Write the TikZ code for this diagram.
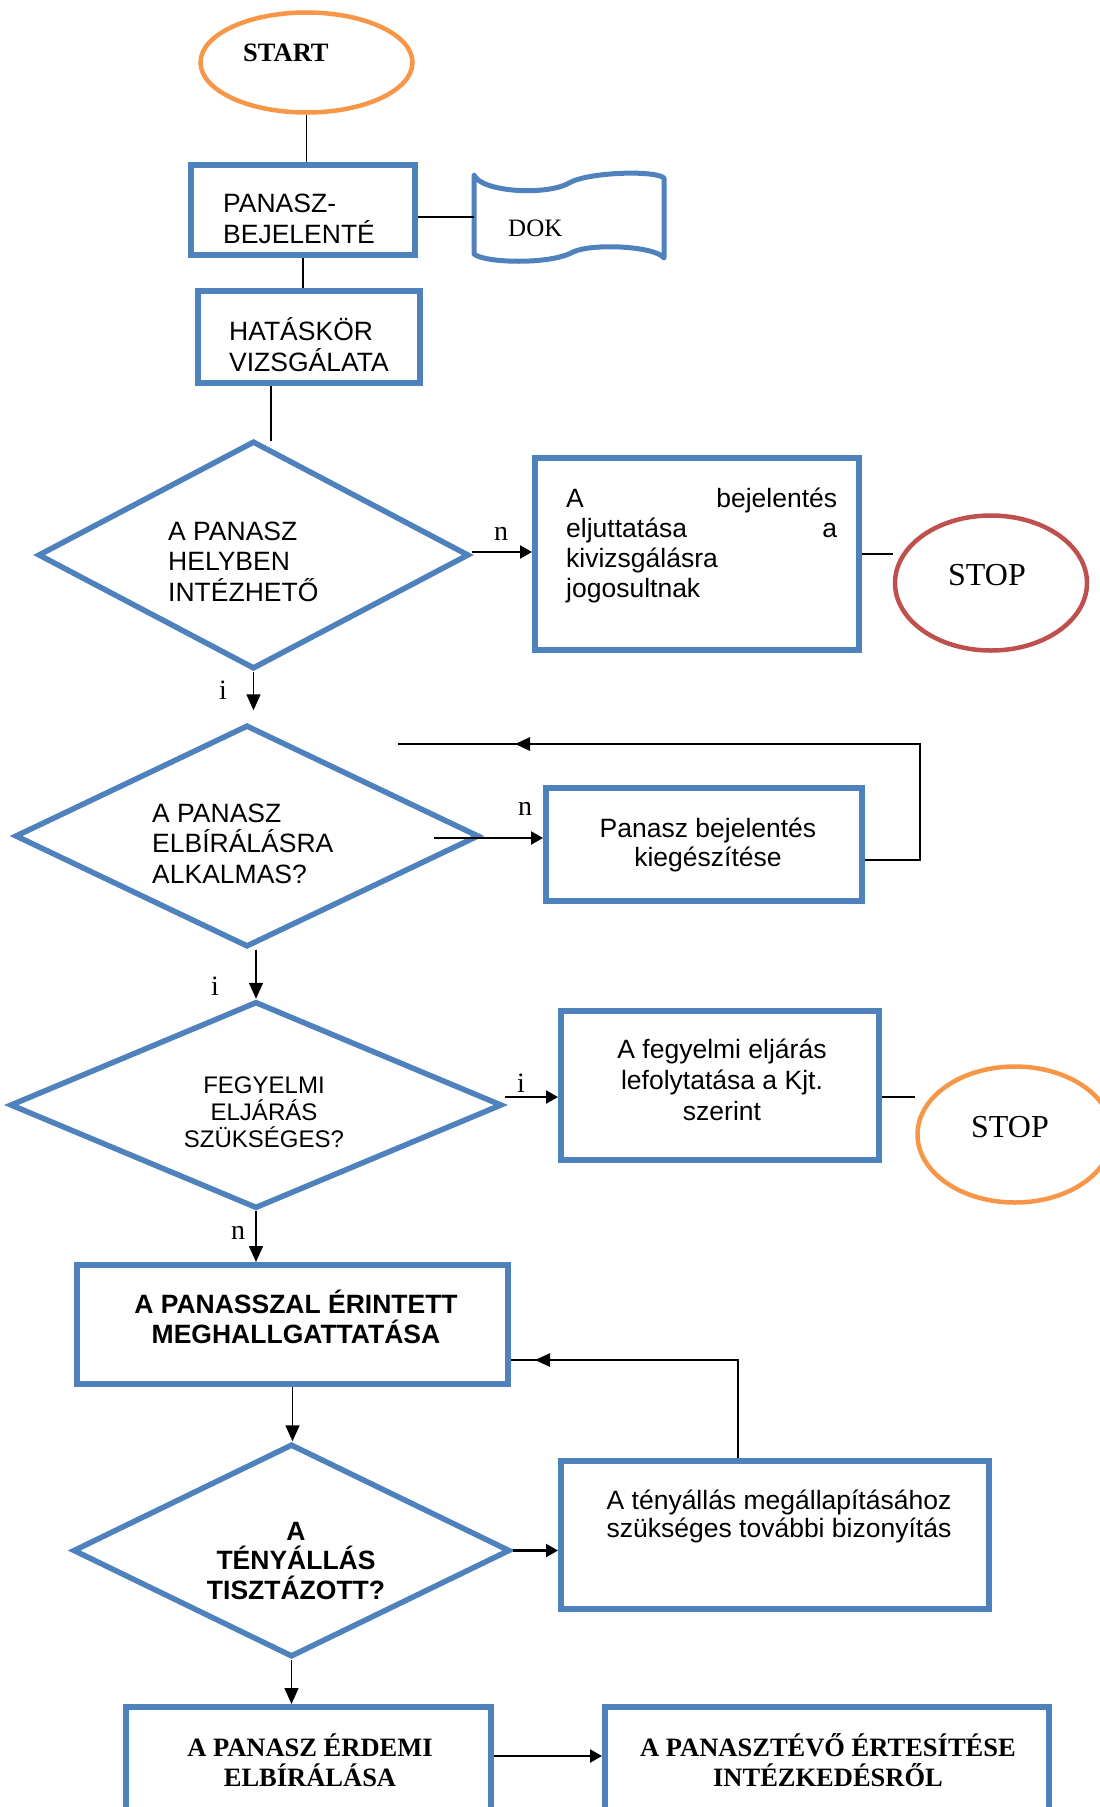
\documentclass[tikz,border=0pt]{standalone}
\usepackage{fontspec}
\setmainfont{Liberation Serif}
\newfontfamily\arialf{Liberation Sans}
\usetikzlibrary{shapes.geometric,arrows.meta}
\definecolor{boxblue}{HTML}{4F81BD}
\definecolor{startorange}{HTML}{F79646}
\definecolor{stopred}{HTML}{C0504D}
\begin{document}
\begin{tikzpicture}[x=1pt,y=-1pt,
  box/.style={draw=boxblue, line width=6pt, rectangle, inner sep=0pt},
  decision/.style={draw=boxblue, line width=5.5pt, diamond, aspect=2, inner sep=0pt},
  term/.style={ellipse, line width=4.5pt, inner sep=0pt},
  sans/.style={font=\arialf\fontsize{26.5pt}{30.5pt}\selectfont, inner sep=0pt},
  sansb/.style={font=\arialf\bfseries\fontsize{26.5pt}{29.5pt}\selectfont, inner sep=0pt},
  serifb/.style={font=\bfseries\fontsize{26.5pt}{30pt}\selectfont, inner sep=0pt},
  stoptext/.style={font=\fontsize{32pt}{36pt}\selectfont, inner sep=0pt, anchor=base},
  lbl/.style={font=\fontsize{28pt}{30pt}\selectfont, inner sep=0pt, anchor=base west},
  conn/.style={line width=1.5pt},
  flow/.style={line width=1.6pt, -{Triangle[length=16pt,width=14pt]}},
  sideflow/.style={line width=2.2pt, -{Triangle[length=12pt,width=13pt]}},
  tipflow/.style={line width=2.6pt, -{Triangle[length=15pt,width=13pt]}}
]
\useasboundingbox (0,0) rectangle (1100,1807);
\clip (0,0) rectangle (1100,1807);

% ---------- shapes ----------
\node[term, draw=startorange, minimum width=212pt, minimum height=100pt] (start) at (306.5,62.5) {};
\node[box, minimum width=224pt, minimum height=90pt] (pan) at (303,210) {};
\node[box, minimum width=222pt, minimum height=92pt] (hat) at (309,337) {};
\node[decision, minimum width=431pt, minimum height=228pt] (d1) at (253.5,555) {};
\node[box, minimum width=324pt, minimum height=192pt] (b2) at (697,554) {};
\node[term, draw=stopred, minimum width=192pt, minimum height=135pt] (stop1) at (991,583) {};
\node[decision, minimum width=464pt, minimum height=222pt] (d2) at (247,836) {};
\node[box, minimum width=316pt, minimum height=113pt] (b3) at (704,844.5) {};
\node[decision, minimum width=492pt, minimum height=207pt] (d3) at (256,1105) {};
\node[box, minimum width=318pt, minimum height=149pt] (b4) at (720,1085.5) {};
\node[term, draw=startorange, minimum width=195pt, minimum height=136pt] (stop2) at (1015,1134.5) {};
\node[box, minimum width=431pt, minimum height=119pt] (b5) at (292.5,1324.5) {};
\node[decision, minimum width=437pt, minimum height=213pt] (d4) at (291.5,1550.5) {};
\node[box, minimum width=428pt, minimum height=148pt] (b6) at (775,1535) {};
\node[box, minimum width=365pt, minimum height=140pt] (b7) at (308.5,1777) {};
\node[box, minimum width=444pt, minimum height=140pt] (b8) at (827,1777) {};

% punched-tape document symbol
\draw[boxblue, line width=5pt, line join=round]
  (474,175) .. controls (481,192) and (546,196) .. (569,183)
  .. controls (588,172) and (655,170) .. (664,178)
  -- (664,258)
  .. controls (655,246) and (592,243) .. (573,252)
  .. controls (550,265) and (484,263) .. (474,254) -- cycle;
\coordinate (dokL) at (474,217);

% ---------- texts (multi-line nodes are anchored at their last baseline) ----------
\node[serifb, anchor=base west] (starttxt) at (243,61) {START};
\node[sans, anchor=base west, align=left] (pantxt) at (223,243) {PANASZ-\\BEJELENTÉ};
\node[font=\fontsize{25pt}{28pt}\selectfont, inner sep=0pt, anchor=base west] (doktxt) at (508,236) {DOK};
\node[sans, anchor=base west, align=left] (hattxt) at (229,371) {HATÁSKÖR\\VIZSGÁLATA};
\node[sans, anchor=base west, align=left] (d1txt) at (168,601) {A PANASZ\\HELYBEN\\INTÉZHETŐ};
\node[sans, anchor=base west, align=left, font=\arialf\fontsize{26.5pt}{30pt}\selectfont] (b2txt) at (566,597)
  {\hbox to 271pt{A\hfill bejelentés}\\\hbox to 271pt{eljuttatása\hfill a}\\kivizsgálásra\\jogosultnak};
\node[stoptext] (stop1txt) at (987,585) {STOP};
\node[sans, anchor=base west, align=left] (d2txt) at (152,883) {A PANASZ\\ELBÍRÁLÁSRA\\ALKALMAS?};
\node[sans, anchor=base, align=center, font=\arialf\fontsize{26.5pt}{29pt}\selectfont] (b3txt) at (708,866) {Panasz bejelentés\\kiegészítése};
\node[sans, anchor=base, align=center, font=\arialf\fontsize{24pt}{27pt}\selectfont] (d3txt) at (264,1147) {FEGYELMI\\ELJÁRÁS\\SZÜKSÉGES?};
\node[sans, anchor=base, align=center, font=\arialf\fontsize{26.5pt}{31pt}\selectfont] (b4txt) at (722,1120) {A fegyelmi eljárás\\lefolytatása a Kjt.\\szerint};
\node[stoptext] (stop2txt) at (1010,1137) {STOP};
\node[sansb, anchor=base, align=center, font=\arialf\bfseries\fontsize{26.5pt}{30pt}\selectfont] (b5txt) at (296,1343) {A PANASSZAL ÉRINTETT\\MEGHALLGATTATÁSA};
\node[sansb, anchor=base, align=center] (d4txt) at (296,1599) {A\\TÉNYÁLLÁS\\TISZTÁZOTT?};
\node[sans, anchor=base, align=center, font=\arialf\fontsize{26.5pt}{28.5pt}\selectfont] (b6txt) at (779,1537.5) {A tényállás megállapításához\\szükséges további bizonyítás};
\node[serifb, anchor=base, align=center] (b7txt) at (310,1786) {A PANASZ ÉRDEMI\\ELBÍRÁLÁSA};
\node[serifb, anchor=base, align=center] (b8txt) at (828,1786) {A PANASZTÉVŐ ÉRTESÍTÉSE\\INTÉZKEDÉSRŐL};

% branch labels
\node[lbl] (n1) at (494,540) {n};
\node[lbl] (i1) at (219,699) {i};
\node[lbl] (n2) at (518,815) {n};
\node[lbl] (i2) at (211,995) {i};
\node[lbl] (i3) at (517,1092) {i};
\node[lbl] (n3) at (231,1239) {n};

% ---------- connectors ----------
\draw[conn] (start.south) -- (start.south |- pan.north);
\draw[conn] ([yshift=-7pt]pan.east) -- (dokL);
\draw[conn] (pan.south) -- (pan.south |- hat.north);
\coordinate (d1in) at (271,441);
\draw[conn] (d1in |- hat.south) -- (d1in);

\draw[sideflow] ([yshift=3pt]d1.east) -- ([yshift=3pt]d1.east -| b2.west);
\draw[conn] (b2.east) -- (b2.east -| stop1.west);
\draw[flow, shorten >=12pt] (d1.south) -- (d1.south |- d2.north);

% return path from the completion box
\coordinate (loopin) at (920,860);
\coordinate (loopcorner) at (920,744);
\coordinate (loopend) at (398,744);
\coordinate (looptail) at (595,744);
\coordinate (looptip) at (515,744);
\draw[conn] ([yshift=-15.5pt]b3.east) -- (loopin) -- (loopcorner) -- (loopend);
\draw[tipflow] (looptail) -- (looptip);
\draw[sideflow] ([shift={(-48pt,-2pt)}]d2.east) -- ([yshift=-2pt]d2.east -| b3.west);

\draw[flow] (d2.south -| d3.north) -- (d3.north);
\draw[sideflow] ([yshift=8pt]d3.east) -- ([yshift=8pt]d3.east -| b4.west);
\draw[conn] ([yshift=-11.5pt]b4.east) -- ([yshift=-11.5pt]b4.east -| stop2.west);
\draw[flow] (d3.south) -- (d3.south |- b5.north);

\draw[flow] (b5.south) -- (b5.south |- d4.north);
\coordinate (retcorner) at (738,1360);
\coordinate (rettail) at (572,1360);
\coordinate (rettip) at (535,1360);
\draw[conn] (retcorner |- b6.north) -- (retcorner) -- (retcorner -| b5.east);
\draw[tipflow] (rettail) -- (rettip);
\draw[sideflow] (d4.east) -- (d4.east -| b6.west);
\draw[flow] (d4.south) -- (d4.south |- b7.north);
\draw[sideflow] ([yshift=21pt]b7.east) -- ([yshift=21pt]b8.west);
\end{tikzpicture}
\end{document}
